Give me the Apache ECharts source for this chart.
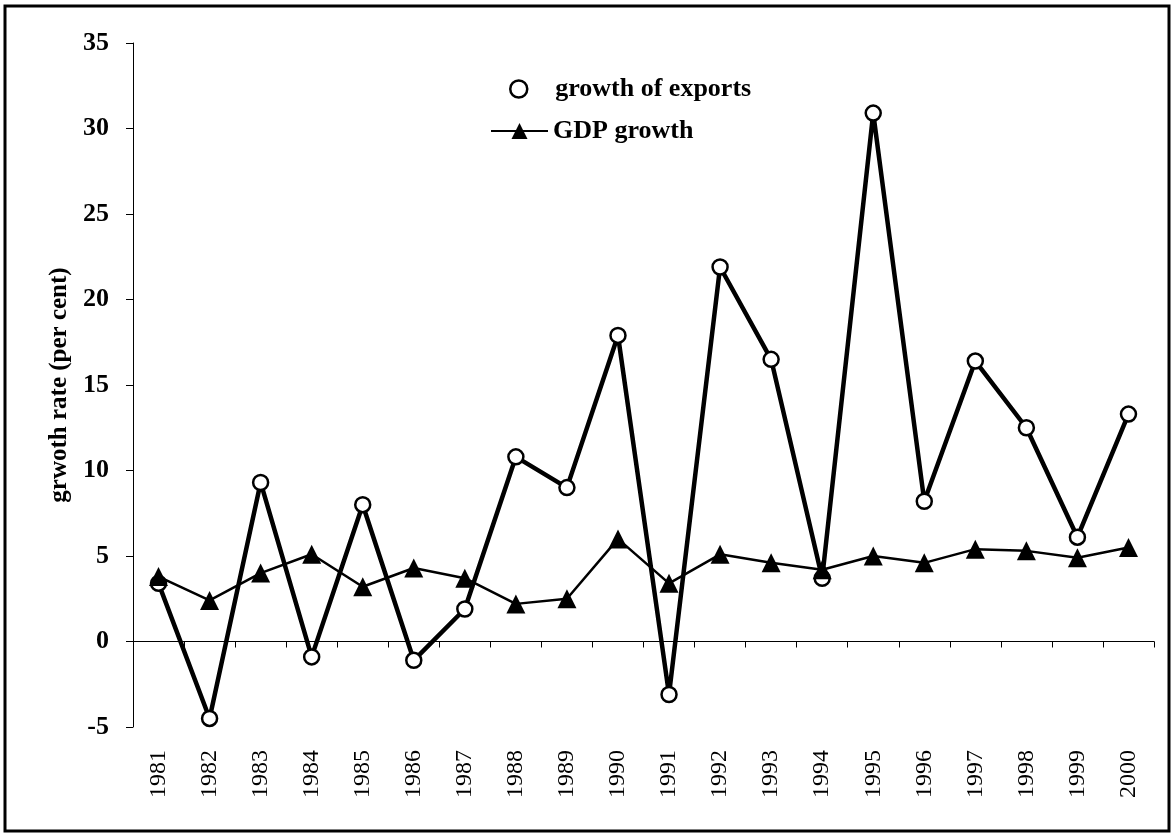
<!DOCTYPE html>
<html>
<head>
<meta charset="utf-8">
<title>growth of exports and GDP</title>
<script src="https://cdn.jsdelivr.net/npm/echarts@6.0.0/dist/echarts.min.js"></script>
<style>
  html, body { margin: 0; padding: 0; background: #fff; }
  #chart { width: 1173px; height: 834px; }
</style>
</head>
<body>
<div id="chart"></div>
<script>
  // values
  const years = ['1981', '1982', '1983', '1984', '1985', '1986', '1987', '1988', '1989', '1990',
    '1991', '1992', '1993', '1994', '1995', '1996', '1997', '1998', '1999', '2000']
  const exportsGrowth = [3.4, -4.5, 9.3, -0.9, 8.0, -1.1, 1.9, 10.8, 9.0, 17.9,
    -3.1, 21.9, 16.5, 3.7, 30.9, 8.2, 16.4, 12.5, 6.1, 13.3]
  const gdpGrowth = [3.8, 2.4, 4.0, 5.1, 3.2, 4.3, 3.7, 2.2, 2.5, 6.0,
    3.4, 5.1, 4.6, 4.2, 5.0, 4.6, 5.4, 5.3, 4.9, 5.5]
  const yTicks = { min: -5, max: 35, step: 5 }

  const serif = '"Liberation Serif", "Times New Roman", serif'
  const chart = echarts.init(document.getElementById('chart'))

  chart.setOption({
    backgroundColor: '#fff',
    animation: false,
    grid: {
      left: 133,
      right: 19,
      top: 43,
      bottom: 107,
      outerBoundsMode: 'none'
    },
    graphic: [{
      type: 'rect',
      shape: { x: 5, y: 6, width: 1164, height: 825 },
      style: { fill: 'none', stroke: '#000', lineWidth: 3 },
      silent: true
    }],
    legend: [
      {
        left: 509,
        top: 76,
        padding: 0,
        itemWidth: 17,
        itemHeight: 17,
        itemGap: 0,
        data: [{
          name: 'growth of exports',
          icon: 'circle',
          itemStyle: { color: '#fff', borderColor: '#000', borderWidth: 2.5 }
        }],
        textStyle: { fontFamily: serif, fontWeight: 'bold', fontSize: 26, color: '#000', padding: [0, 0, 0, 23] }
      },
      {
        left: 490,
        top: 118,
        padding: 0,
        itemWidth: 57,
        itemHeight: 20,
        itemGap: 0,
        data: ['GDP growth'],
        textStyle: { fontFamily: serif, fontWeight: 'bold', fontSize: 26, color: '#000' }
      }
    ],
    xAxis: [
      {
        // labels sit at the bottom of the plot
        type: 'category',
        data: years,
        position: 'bottom',
        axisLine: { show: false, onZero: false },
        axisTick: { show: false },
        axisLabel: {
          interval: 0,
          rotate: 90,
          margin: 23,
          fontFamily: serif,
          fontSize: 24,
          color: '#000'
        },
        splitLine: { show: false }
      },
      {
        // the line through zero with its ticks
        type: 'category',
        data: years,
        position: 'top',
        axisLine: { show: true, onZero: true, lineStyle: { color: '#000', width: 1 } },
        axisTick: { show: true, inside: true, length: 6, lineStyle: { color: '#000' } },
        axisLabel: { show: false },
        splitLine: { show: false }
      }
    ],
    yAxis: {
      type: 'value',
      min: yTicks.min,
      max: yTicks.max,
      interval: yTicks.step,
      name: 'grwoth rate (per cent)',
      nameLocation: 'middle',
      nameGap: 58,
      nameTextStyle: { fontFamily: serif, fontWeight: 'bold', fontSize: 25, color: '#000' },
      axisLine: { show: true, lineStyle: { color: '#000', width: 1 } },
      axisTick: { show: true, length: 7, lineStyle: { color: '#000' } },
      axisLabel: { margin: 24, fontFamily: serif, fontWeight: 'bold', fontSize: 26, color: '#000' },
      splitLine: { show: false }
    },
    series: [
      {
        name: 'growth of exports',
        type: 'line',
        xAxisIndex: 0,
        data: exportsGrowth,
        symbol: 'circle',
        symbolSize: 15,
        itemStyle: { color: '#fff', borderColor: '#000', borderWidth: 2.5 },
        lineStyle: { color: '#000', width: 4.5 },
        z: 2
      },
      {
        name: 'GDP growth',
        type: 'line',
        xAxisIndex: 0,
        data: gdpGrowth,
        symbol: 'triangle',
        symbolSize: 19,
        itemStyle: { color: '#000' },
        lineStyle: { color: '#000', width: 2.5 },
        z: 3
      }
    ]
  })
</script>
</body>
</html>
